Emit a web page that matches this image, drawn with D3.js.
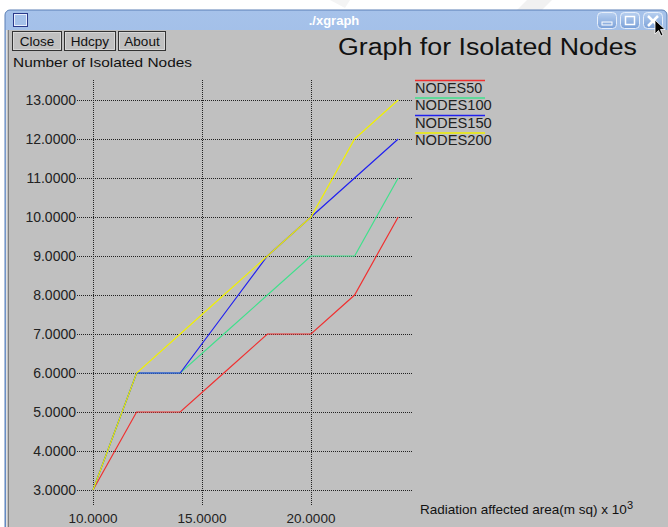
<!DOCTYPE html>
<html><head><meta charset="utf-8">
<script src="https://cdn.jsdelivr.net/npm/d3@7"></script>
<style>html,body{margin:0;padding:0;background:#fff;overflow:hidden}</style>
</head><body>
<svg id="c" width="668" height="527"></svg>
<script>
const xValues = [10, 12, 14, 16, 18, 20, 22, 24];
const nodes50  = [3, 5, 5, 6, 7, 7, 8, 10];
const nodes100 = [3, 6, 6, 7, 8, 9, 9, 11];
const nodes150 = [3, 6, 6, 7.5, 9, 10, 11, 12];
const nodes200 = [3, 6, 7, 8, 9, 10, 12, 13];
const seriesNames = ["NODES50", "NODES100", "NODES150", "NODES200"];
const seriesColors = ["#f03030", "#40e08c", "#2020f0", "#f0f000"];
const xTicks = [10, 15, 20];
const yTicks = [3, 4, 5, 6, 7, 8, 9, 10, 11, 12, 13];
const buttons = ["Close", "Hdcpy", "About"];

const svg = d3.select("#c");
const F = "'Liberation Sans', Arial, sans-serif";

const defs = svg.append("defs");
const g1 = defs.append("linearGradient").attr("id","tb").attr("x1",0).attr("y1",0).attr("x2",0).attr("y2",1);
g1.append("stop").attr("offset","0").attr("stop-color","#a6c2ea");
g1.append("stop").attr("offset","1").attr("stop-color","#6b95d0");
const g2 = defs.append("linearGradient").attr("id","bt").attr("x1",0).attr("y1",0).attr("x2",0).attr("y2",1);
g2.append("stop").attr("offset","0").attr("stop-color","#b8d0f0");
g2.append("stop").attr("offset","1").attr("stop-color","#7aa0d8");

// faint watermark
svg.append("path").attr("d","M527,0 L552,0 L540,12 L515,12Z").attr("fill","#f1f1f1");
svg.append("path").attr("d","M330,0 L350,0 L345,8Z").attr("fill","#f4f4f4");

svg.append("rect").attr("x",5).attr("y",10).attr("width",662).attr("height",530).attr("rx",5).attr("fill","url(#tb)").attr("stroke","#5a7fb5").attr("stroke-width",1);
svg.append("rect").attr("x",6).attr("y",30).attr("width",662).attr("height",500).attr("fill","#c0c0c0");
svg.append("line").attr("x1",8.5).attr("x2",8.5).attr("y1",30).attr("y2",527).attr("stroke","#808080");
svg.append("line").attr("x1",6.5).attr("x2",6.5).attr("y1",30).attr("y2",527).attr("stroke","#e0e0e0");

// title bar
svg.append("rect").attr("x",13.5).attr("y",13.5).attr("width",14).attr("height",13).attr("fill","none").attr("stroke","#2a3a8a").attr("stroke-width",1);
svg.append("rect").attr("x",14.5).attr("y",14.5).attr("width",12).attr("height",11).attr("fill","none").attr("stroke","#e8eefc").attr("stroke-width",1);
svg.append("text").attr("x",334).attr("y",25).attr("text-anchor","middle").attr("font-family",F).attr("font-weight","bold").attr("font-size",13).attr("fill","#fff").text("./xgraph");
[597,620,643].forEach((bx,i)=>{
  svg.append("rect").attr("x",bx+0.5).attr("y",12.5).attr("width",19).attr("height",16).attr("rx",4).attr("fill","url(#bt)").attr("stroke","#e6eefa");
  if(i===0) svg.append("rect").attr("x",bx+5).attr("y",22).attr("width",10).attr("height",3).attr("fill","none").attr("stroke","#fff").attr("stroke-width",1);
  if(i===1) svg.append("rect").attr("x",bx+5.5).attr("y",16.5).attr("width",9).attr("height",8).attr("fill","none").attr("stroke","#fff").attr("stroke-width",1.5);
  if(i===2){ svg.append("path").attr("d",`M${bx+5},16 L${bx+15},26 M${bx+15},16 L${bx+5},26`).attr("stroke","#fff").attr("stroke-width",2.5); }
});
// cursor
svg.append("path").attr("d","M655,20 L655,34 L658.5,30.5 L661,36 L663,35 L660.5,29.5 L665,29.5Z").attr("fill","#000").attr("stroke","#fff").attr("stroke-width",0.8);

// buttons
let bx = 12.5;
const bw = [49, 51, 47];
buttons.forEach((b,i)=>{
  svg.append("rect").attr("x",bx).attr("y",31.5).attr("width",bw[i]).attr("height",19).attr("fill","#c0c0c0").attr("stroke","#333");
  svg.append("rect").attr("x",bx+1).attr("y",32.5).attr("width",bw[i]-2).attr("height",17).attr("fill","none").attr("stroke","#e6e6e6").attr("stroke-width",0.6);
  svg.append("text").attr("x",bx+bw[i]/2).attr("y",46).attr("text-anchor","middle").attr("font-family",F).attr("font-size",13.5).attr("fill","#111").text(b);
  bx += bw[i] + 3;
});

// titles
svg.append("text").attr("x",338).attr("y",55).attr("font-family",F).attr("font-size",23).attr("fill","#111").attr("textLength",299).attr("lengthAdjust","spacingAndGlyphs").text("Graph for Isolated Nodes");
svg.append("text").attr("x",13).attr("y",67).attr("font-family",F).attr("font-size",13.5).attr("fill","#111").attr("textLength",179).attr("lengthAdjust","spacingAndGlyphs").text("Number of Isolated Nodes");

// scales
const x = d3.scaleLinear().domain([10,24]).range([93,398.2]);
const y = d3.scaleLinear().domain([3,13]).range([490,100]);

// grid
const grid = svg.append("g").attr("stroke","#222").attr("stroke-width",1).attr("stroke-dasharray","1,1");
yTicks.forEach(t=>{
  grid.append("line").attr("x1",77).attr("x2",413).attr("y1",Math.round(y(t))+0.5).attr("y2",Math.round(y(t))+0.5);
});
xTicks.forEach(t=>{
  grid.append("line").attr("x1",Math.round(x(t))+0.5).attr("x2",Math.round(x(t))+0.5).attr("y1",80).attr("y2",506);
});

// tick labels
yTicks.forEach(t=>{
  svg.append("text").attr("x",76).attr("y",y(t)+5).attr("text-anchor","end").attr("font-family",F).attr("font-size",14).attr("fill","#222").text(d3.format(".4f")(t));
});
xTicks.forEach(t=>{
  svg.append("text").attr("x",x(t)).attr("y",523).attr("text-anchor","middle").attr("font-family",F).attr("font-size",13.5).attr("fill","#222").text(d3.format(".4f")(t));
});

// series
const allSeries = [nodes50, nodes100, nodes150, nodes200];
const line = d3.line().x((d,i)=>x(xValues[i])).y(d=>y(d));
allSeries.forEach((s,i)=>{
  svg.append("path").datum(s).attr("d",line).attr("fill","none").attr("stroke",seriesColors[i]).attr("stroke-width",1.2);
});

// legend
seriesNames.forEach((n,i)=>{
  const ly = 80.5 + i*17.5;
  svg.append("line").attr("x1",415).attr("x2",485).attr("y1",ly).attr("y2",ly).attr("stroke",seriesColors[i]).attr("stroke-width",1.5);
  svg.append("text").attr("x",415).attr("y",ly+12).attr("font-family",F).attr("font-size",14).attr("fill","#222").attr("textLength", n.length*9.6).attr("lengthAdjust","spacingAndGlyphs").text(n);
});

// x axis label
const xl = svg.append("text").attr("x",420).attr("y",514).attr("font-family",F).attr("font-size",13.5).attr("fill","#111");
xl.append("tspan").text("Radiation affected area(m sq) x 10");
xl.append("tspan").attr("dy",-5).attr("font-size",11).text("3");
</script>
</body></html>
